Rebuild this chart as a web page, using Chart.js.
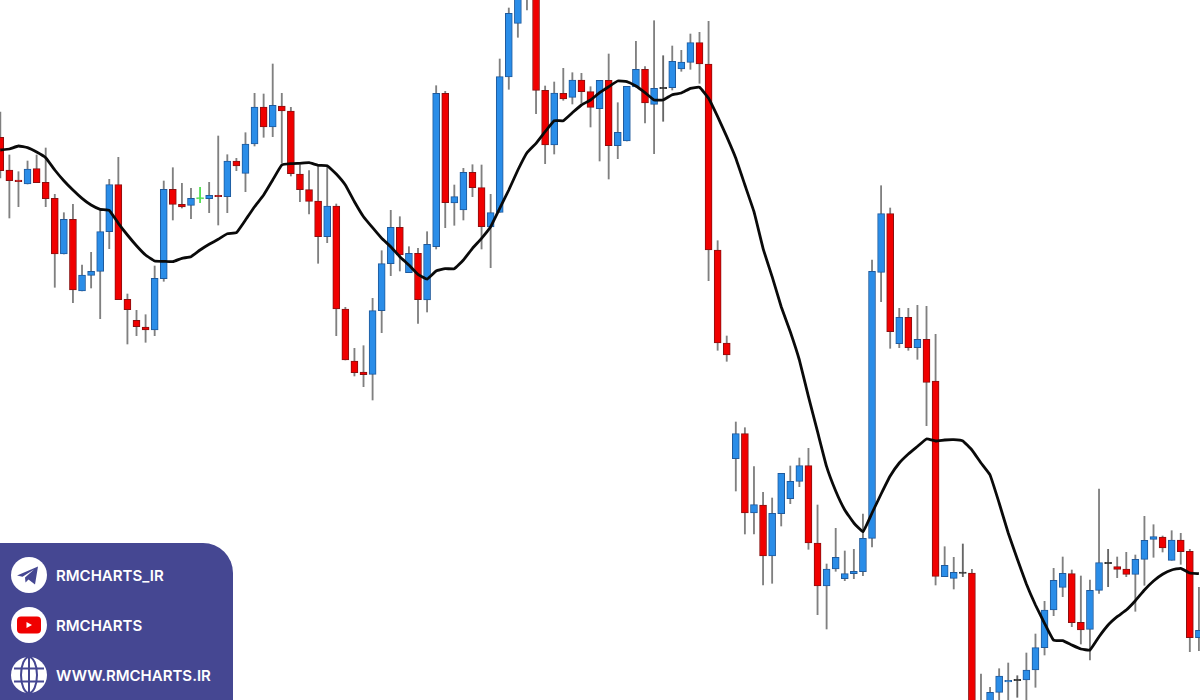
<!DOCTYPE html>
<html>
<head>
<meta charset="utf-8">
<title>RMCHARTS</title>
<script src="https://cdn.jsdelivr.net/npm/chart.js@4/dist/chart.umd.min.js"></script>
<style>
    html, body { margin: 0; padding: 0; background: #fff; overflow: hidden; }
    #wrap { position: relative; width: 1200px; height: 700px; }
    #panel {
        position: absolute; left: 0; top: 543px; width: 233px; height: 157px;
        background: #454792; border-top-right-radius: 30px;
        color: #fff; font: 600 15px Inter, "Open Sans", sans-serif;
    }
    .row { position: absolute; left: 11px; height: 36px; display: flex; align-items: center; }
    .row svg { width: 36px; height: 36px; margin-right: 9px; }
</style>
</head>
<body>
<div id="wrap">
    <canvas id="myChart" width="1200" height="700"></canvas>
    <div id="panel">
        <div class="row" style="top:14px">
            <svg viewBox="0 0 36 36"><circle cx="18" cy="18" r="18" fill="#fff"/><path d="M6 18.5 L27 9.5 L24 27.5 L17.5 22.5 L14.5 25.5 L14 20.5 L23 12.5 L11.5 19.8 Z" fill="#454792"/></svg>
            <span>RMCHARTS_IR</span>
        </div>
        <div class="row" style="top:64px">
            <svg viewBox="0 0 36 36"><circle cx="18" cy="18" r="18" fill="#fff"/><rect x="6" y="9.5" width="24" height="17" rx="4" fill="#f00000"/><path d="M15.5 15 L21 18 L15.5 21 Z" fill="#fff"/></svg>
            <span>RMCHARTS</span>
        </div>
        <div class="row" style="top:114px">
            <svg viewBox="0 0 36 36"><circle cx="18" cy="18" r="18" fill="#fff"/><g fill="none" stroke="#454792" stroke-width="2"><ellipse cx="18" cy="18" rx="8" ry="18"/><path d="M18 0 V36 M3 11.5 H33 M3 24.5 H33"/></g></svg>
            <span>WWW.RMCHARTS.IR</span>
        </div>
    </div>
</div>
<script>
const OPENS = [562.7,530,520,516,531.3,517.7,501.7,446,480.7,409,424.7,428.7,468.3,515.3,400.7,379.7,373,370,421.3,510.7,495.7,494.7,501.7,501.3,504.7,503.3,539,526.7,556,593,573,594,589,526,510.3,499,463.3,494,391,339,328,325.7,389.3,436.3,472.7,427.3,446.7,400,453.3,606.7,497,490,527.7,512.3,473,487.7,623,676.7,725,708,609.7,555,606.7,602.7,620,608.3,591.3,619.7,554.3,559,613,630.7,595.7,612,612.3,631,637.7,657.3,636,450,357,241.3,266.3,187,195,144,186.3,201.3,218.7,234.3,157,114,131,121.3,126.3,128.3,161.7,427.7,486.3,356.3,382.7,352.3,360.7,319,123.3,121.7,127.3,127,-15,-5,7.7,18,20,20,30,52.3,90,112.7,126.3,77.7,70.7,109.7,137,133.3,131,125.7,140.7,160.7,163,139.7,160,148.7,62.3];
const HIGHS = [588,545,528.3,539,545,552,505.7,487.3,495.7,435,447.7,490,520.7,542.7,406,389.7,385.3,434,519,532.3,516.7,511.7,512.7,517.7,564,545.3,541.7,567.3,606.7,606,636,606.7,592.7,535,529.3,533.3,534,496,392.7,351.7,354.3,401.7,449.3,489.7,483.3,453.3,451.7,468.3,614.3,608.7,515,531.7,535.3,535,505.7,641,692,715,730,712,614,618,631.7,627.3,626.7,613.3,619.7,646,597.3,613.7,658.7,633.3,679.3,644.3,654,649.7,666,667.7,678.7,459.3,364,278,272.3,233.3,207.7,202,226.7,234,242,251.7,195,136,171.7,149,150.7,186,440,514.3,492,391.7,391.7,394.7,393.7,365.7,153.3,142.7,156,130.7,26,12.7,31.3,37,24.3,47,66,98.7,131.7,143,130,124,120,211,150.7,143,147.7,145,183.7,175.3,164,169.3,166.7,150.7,112.7];
const LOWS = [522,482,493.3,516,517.3,493.3,412.7,446,397.3,409,412,381.3,451.3,400.3,356,364.3,357.7,364.3,418.7,480,492,481.3,497.3,487.3,475,487.3,529.3,508.3,554,562.7,563.3,537,524,498.3,486,436.7,457.3,364.3,340,324,313.3,300,367.3,424.3,429,427.3,376.7,388,451,472.3,474.7,480,503.3,451,432.3,487.7,610.7,662.7,690,586.3,536.3,546,599.7,596,596.7,573,539,521,541.3,559,613,577,546.3,578.7,610,628.7,630.7,616.7,419.3,349.7,338.7,209,166,166,115,116.7,174,196.3,213.3,150.7,85.3,71,128.7,119.3,121.3,124.3,153,398.3,351.7,352.3,349.7,340.7,274.3,115,123.3,111,123.3,-20,-20,-15,-5,-5,2.7,-5,12.7,45,84.3,103.3,73.3,56,40,106.7,113.3,122.3,123.3,88.7,114.7,142.7,148,139.7,135.7,48.3,49.3];
const CLOSES = [529.3,519.3,518.3,531,517.3,501.3,446,480.7,410,425,428.7,468.3,515.3,400.3,390.3,373.3,370,421.7,510.7,495.7,493,501.7,501.7,504.7,503.3,539,534,556,593,573,594.7,589,526.3,510.3,498.7,463.3,494,391,340,327.3,325.3,389.3,436.3,472.7,445,446.7,400.3,455.7,606.7,497.3,503.3,527.7,512.3,473.3,487.3,623.3,686.7,705,708,609.7,555,607,601,620,608.3,592.7,619.7,554.3,567.7,613.7,630.7,597,611.7,612,638.7,638,657.3,636,450,357,345,266.3,187,195.3,144,186.7,226.7,218.7,234.3,157,114,131,142.7,126.3,128.7,161.7,428.7,486.3,368.3,382.7,352.3,360.7,317.7,123.7,134.7,127.7,127.3,-10,-8,7.7,24,19.7,20,30,52.3,90,119.7,126.7,77.3,70,109.7,137.3,137,130.7,125.7,140.7,159.7,163.3,152,160,148.3,62.3,69.7];
const MA_VALUES = [550,551,554,552.3,548,542.3,530,519.3,510,501.7,495,490.7,489.7,476.7,465,454.3,445,439,438.7,438.3,441.7,443.3,450,455.7,460.7,466.3,467.3,480,493.3,505,520,535,536.3,536.7,537.3,534.7,534.3,526,515,498.3,483.3,472.3,461.7,453.3,443.3,435,425.7,421,429,431.3,431.3,440,451.7,461.7,473.3,491.7,510,530,547.3,556.7,568.3,579.3,579.3,587.3,595,600,607.3,613.3,619,618.3,614,607.3,600,600,605.3,607,611.7,612.7,601.7,583.3,563.3,541.7,515,488.3,451.7,423.3,393.3,368.3,340,303.3,268.3,233.3,209,190,177,168.3,187,206,224,237,246,253.5,261,259,260,260.3,259,250,237,225,197,167,141,116,95,76.7,59.7,59.3,55,51,50,63.3,75,83.3,90,99.3,110,119,125.7,130,131.7,127,126.3];

const GREEN_DOJI = 22;
const COLOR_UP = '#2a8de8';
const COLOR_DOWN = '#f00000';
const COLOR_UP_EDGE = '#1f5a9c';
const COLOR_DOWN_EDGE = '#8a1010';
const COLOR_WICK = '#808080';
const COLOR_DOJI = '#333333';
const COLOR_GREEN = '#55e055';

function bodyColor(i) {
    if (i === GREEN_DOJI) return COLOR_GREEN;
    if (CLOSES[i] === OPENS[i]) return COLOR_DOJI;
    return CLOSES[i] > OPENS[i] ? COLOR_UP : COLOR_DOWN;
}

function edgeColor(i) {
    if (i === GREEN_DOJI || CLOSES[i] === OPENS[i]) return bodyColor(i);
    return CLOSES[i] > OPENS[i] ? COLOR_UP_EDGE : COLOR_DOWN_EDGE;
}

function wickColor(i) {
    if (i === GREEN_DOJI) return COLOR_GREEN;
    return CLOSES[i] === OPENS[i] ? '#666666' : COLOR_WICK;
}

const wickData = OPENS.map((o, i) => ({ x: i, y: [LOWS[i], HIGHS[i]] }));
// a doji has no height, so give it a hairline to be visible
const bodyData = OPENS.map((o, i) => ({
    x: i,
    y: o === CLOSES[i] ? [o - 0.6, o + 0.6] : [o, CLOSES[i]]
}));
const maData = MA_VALUES.map((v, i) => ({ x: i, y: v }));

new Chart(document.getElementById('myChart'), {
    type: 'bar',
    data: {
        datasets: [
            {
                type: 'line',
                data: maData,
                borderColor: '#0a0a0a',
                borderWidth: 2.8,
                pointRadius: 0,
                tension: 0.1,
                order: 1
            },
            {
                data: bodyData,
                backgroundColor: OPENS.map((o, i) => bodyColor(i)),
                borderColor: OPENS.map((o, i) => edgeColor(i)),
                borderWidth: 1,
                borderSkipped: false,
                barThickness: 7,
                grouped: false,
                order: 2
            },
            {
                data: wickData,
                backgroundColor: OPENS.map((o, i) => wickColor(i)),
                borderWidth: 0,
                barThickness: 1.2,
                grouped: false,
                order: 3
            }
        ]
    },
    options: {
        responsive: false,
        animation: false,
        layout: { padding: 0 },
        plugins: { legend: { display: false }, tooltip: { enabled: false } },
        scales: {
            x: { type: 'linear', min: -0.033, max: 132.12, offset: false, display: false },
            y: { min: 0, max: 700, display: false }
        }
    }
});
</script>
</body>
</html>
